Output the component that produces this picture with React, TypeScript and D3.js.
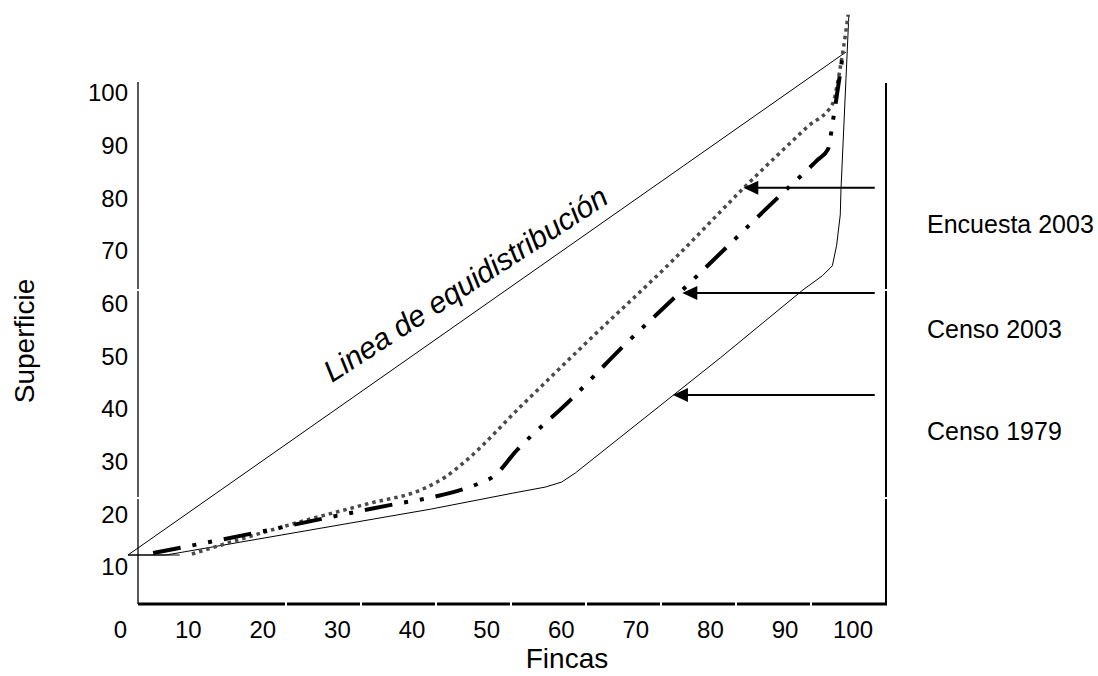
import * as d3 from 'd3';

// Lorenz curves, values in percent (fincas, superficie)
const equidistribution: [number, number][] = [[0, 0], [100, 100]];
const baseStub: [number, number][] = [[0, 0], [7.2, 0]];
const censo1979: [number, number][] = [
  [0, 0], [5.3, 0], [42.1, 9.1], [53.6, 12.3], [58.1, 13.5], [60.4, 14.5], [62.3, 16.3],
  [82.5, 39.2], [94.0, 52.7], [96.7, 55.5], [98.1, 57.5], [98.7, 61.6], [99.2, 67.6],
  [99.3, 72.6], [100.4, 107.4],
];
const encuesta2003: [number, number][] = [
  [8.9, 0.2], [23.5, 6.4], [33.7, 10.3], [40.7, 12.9], [44.2, 15.5], [47.2, 18.9],
  [54.6, 29.4], [63.9, 42.3], [75.9, 58.6], [86.2, 73.6], [94.6, 85.1], [98.2, 89.9],
  [98.7, 93.0], [99.6, 100.4], [100.3, 107.4],
];
const censo2003: [number, number][] = [
  [3.5, 0.4], [17.7, 4.4], [27.7, 7.4], [37.9, 10.3], [41.8, 11.3], [49.0, 14.3],
  [50.8, 15.5], [54.2, 20.9], [61.6, 30.8], [68.9, 41.4], [76.5, 51.7], [91.2, 72.0],
  [96.0, 78.5], [97.5, 80.7], [98.2, 86.5], [99.6, 100],
];

const xTicks = [0, 10, 20, 30, 40, 50, 60, 70, 80, 90, 100];
const yTicks = [10, 20, 30, 40, 50, 60, 70, 80, 90, 100];

// arrows pointing at each curve
const seriesNames = ['Encuesta 2003', 'Censo 2003', 'Censo 1979'];
const arrowY = [73.0, 52.1, 31.8];
const arrowTip = [85.7, 77.2, 75.9];
const arrowTail = 104;

const W = 1098;
const H = 676;
const font = '"Liberation Sans", Arial, sans-serif';

export default function App() {
  const x = d3.scaleLinear().domain([0, 100]).range([128, 846]);
  const y = d3.scaleLinear().domain([0, 100]).range([555, 52]);
  // label positions (the frame labels don't line up with the curves)
  const xLab = d3.scaleLinear().domain([0, 100]).range([127, 873]);
  const yLab = d3.scaleLinear().domain([10, 100]).range([567, 93]);

  const line = d3.line<[number, number]>().x(d => x(d[0])).y(d => y(d[1]));
  const smooth = d3.line<[number, number]>().x(d => x(d[0])).y(d => y(d[1])).curve(d3.curveMonotoneX);

  const frame = { left: 138, right: 886, top: 82, bottom: 604 };

  return (
    <svg width={W} height={H} style={{ position: 'absolute', left: 0, top: 0, background: '#fff' }}
      fontFamily={font}>
      <rect width={W} height={H} fill="#fff" />

      {/* frame */}
      <line x1={frame.left} x2={frame.left} y1={frame.top} y2={frame.bottom} stroke="#000" strokeWidth={1.3} />
      <line x1={frame.right} x2={frame.right} y1={frame.top + 1} y2={frame.bottom} stroke="#000" strokeWidth={2} />
      <line x1={frame.left} x2={frame.right + 1} y1={frame.bottom} y2={frame.bottom} stroke="#000" strokeWidth={3} />
      {d3.range(286, 830, 75).map(bx => (
        <line key={bx} x1={bx} x2={bx} y1={frame.bottom - 3} y2={frame.bottom + 3} stroke="#fff" strokeWidth={2} />
      ))}
      {[290, 498].map(by => (
        <g key={by}>
          <line x1={frame.left - 2} x2={frame.left + 2} y1={by} y2={by} stroke="#fff" strokeWidth={2} />
          <line x1={frame.right - 2} x2={frame.right + 2} y1={by} y2={by} stroke="#fff" strokeWidth={2} />
        </g>
      ))}

      {/* tick labels */}
      {xTicks.map(t => (
        <text key={t} x={xLab(t)} y={638} textAnchor="end" fontSize={24}>{t}</text>
      ))}
      {yTicks.map(t => (
        <text key={t} x={128} y={yLab(t)} dy="0.35em" textAnchor="end" fontSize={24}>{t}</text>
      ))}
      <text x={567} y={668} textAnchor="middle" fontSize={28}>Fincas</text>
      <text transform="translate(34,341) rotate(-90)" textAnchor="middle" fontSize={28}>Superficie</text>

      {/* curves */}
      <path d={line(equidistribution) ?? ''} fill="none" stroke="#000" strokeWidth={1} />
      <path d={line(baseStub) ?? ''} fill="none" stroke="#000" strokeWidth={1} />
      <path d={line(censo1979) ?? ''} fill="none" stroke="#000" strokeWidth={1} />
      <path d={smooth(encuesta2003) ?? ''} fill="none" stroke="#4a4a4a" strokeWidth={3.5}
        strokeDasharray="3.5 4" />
      <path d={smooth(censo2003) ?? ''} fill="none" stroke="#000" strokeWidth={4}
        strokeDasharray="28 12 4 12 4 12" />

      <text transform="translate(332,383) rotate(-33)" fontSize={30} fontStyle="italic">
        Linea de equidistribución
      </text>

      {/* arrows + labels */}
      {seriesNames.map((name, i) => {
        const ay = y(arrowY[i]);
        const tx = x(arrowTip[i]);
        return (
          <g key={name}>
            <line x1={tx + 12} x2={x(arrowTail)} y1={ay} y2={ay} stroke="#000" strokeWidth={2} />
            <path d={`M${tx},${ay}L${tx + 15},${ay - 7}L${tx + 15},${ay + 7}Z`} fill="#000" />
            <text x={927} y={ay + 45} fontSize={25}>{name}</text>
          </g>
        );
      })}
    </svg>
  );
}
